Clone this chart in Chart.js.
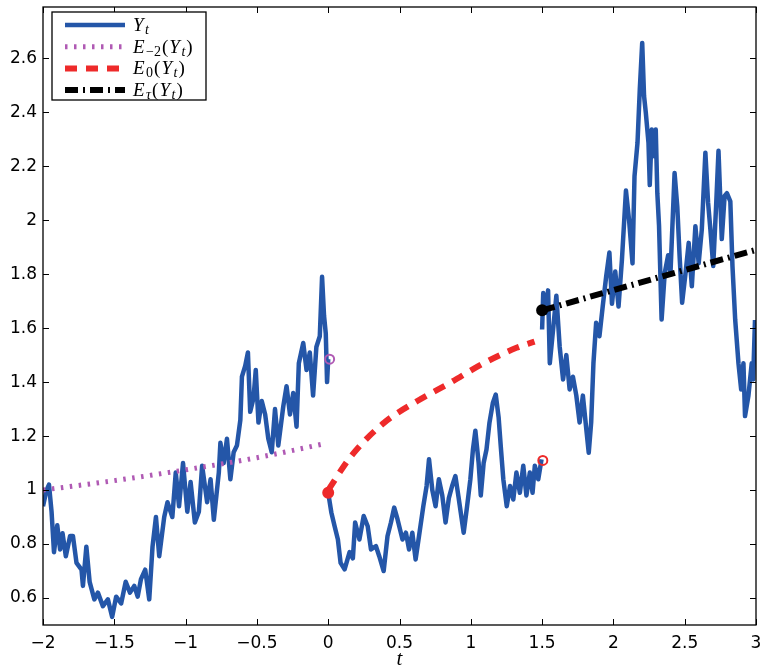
<!DOCTYPE html>
<html>
<head>
<meta charset="utf-8">
<script src="https://cdn.jsdelivr.net/npm/chart.js@4.4.0/dist/chart.umd.min.js"></script>
<style>
    html, body { margin: 0; padding: 0; background: #fff; }
    #wrap { width: 763px; height: 672px; position: relative; }
</style>
</head>
<body>
<div id="wrap"><canvas id="pathChart"></canvas></div>
<script>
// Y_t path, in three pieces (gaps at t=0 and t=1.5)
var tPast = [-2.000, -1.975, -1.958, -1.940, -1.923, -1.900, -1.880, -1.863, -1.840, -1.810,
    -1.790, -1.765, -1.730, -1.720, -1.696, -1.673, -1.640, -1.615, -1.580, -1.545,
    -1.515, -1.487, -1.452, -1.420, -1.390, -1.360, -1.336, -1.313, -1.283, -1.255,
    -1.232, -1.208, -1.185, -1.150, -1.127, -1.093, -1.069, -1.046, -1.018, -0.988,
    -0.965, -0.935, -0.907, -0.884, -0.849, -0.825, -0.802, -0.767, -0.756, -0.733,
    -0.710, -0.686, -0.663, -0.640, -0.616, -0.605, -0.582, -0.563, -0.547, -0.524,
    -0.508, -0.489, -0.466, -0.442, -0.420, -0.396, -0.373, -0.350, -0.315, -0.292,
    -0.268, -0.245, -0.222, -0.206, -0.175, -0.152, -0.129, -0.106, -0.083, -0.059,
    -0.043, -0.029, -0.017, -0.008, 0.000];
var yPast = [0.94, 1.00, 1.02, 0.92, 0.77, 0.87, 0.78, 0.84, 0.755, 0.83,
    0.83, 0.73, 0.705, 0.645, 0.79, 0.66, 0.595, 0.62, 0.57, 0.595,
    0.53, 0.605, 0.58, 0.66, 0.62, 0.645, 0.605, 0.67, 0.705, 0.595,
    0.79, 0.90, 0.755, 0.90, 0.955, 0.90, 1.065, 0.94, 1.10, 0.92,
    1.03, 0.88, 0.92, 1.09, 0.955, 1.04, 0.89, 1.065, 1.175, 1.10,
    1.19, 1.04, 1.14, 1.165, 1.26, 1.42, 1.46, 1.51, 1.29, 1.34,
    1.445, 1.25, 1.33, 1.28, 1.19, 1.14, 1.30, 1.165, 1.31, 1.385,
    1.28, 1.36, 1.235, 1.47, 1.545, 1.445, 1.51, 1.35, 1.53, 1.57,
    1.79, 1.645, 1.58, 1.40, 1.485];

var tMid = [0.000, 0.022, 0.045, 0.068, 0.087, 0.115, 0.150, 0.173, 0.189, 0.219,
    0.249, 0.277, 0.300, 0.335, 0.358, 0.389, 0.416, 0.440, 0.463, 0.486,
    0.521, 0.545, 0.567, 0.590, 0.613, 0.637, 0.667, 0.690, 0.707, 0.730,
    0.753, 0.776, 0.800, 0.823, 0.846, 0.869, 0.892, 0.915, 0.950, 0.974,
    0.997, 1.015, 1.032, 1.055, 1.070, 1.090, 1.110, 1.131, 1.155, 1.175,
    1.195, 1.210, 1.228, 1.252, 1.275, 1.298, 1.320, 1.344, 1.368, 1.390,
    1.414, 1.433, 1.449, 1.473, 1.496];
var yMid = [0.99, 0.917, 0.866, 0.817, 0.73, 0.706, 0.77, 0.747, 0.88, 0.817,
    0.904, 0.866, 0.78, 0.792, 0.755, 0.70, 0.83, 0.88, 0.935, 0.892,
    0.817, 0.842, 0.78, 0.842, 0.743, 0.83, 0.94, 1.015, 1.114, 1.00,
    0.94, 1.04, 0.98, 0.88, 0.97, 1.015, 1.052, 0.97, 0.842, 0.94,
    1.04, 1.15, 1.22, 1.10, 0.98, 1.10, 1.15, 1.25, 1.324, 1.354,
    1.27, 1.163, 1.04, 0.94, 1.015, 0.965, 1.065, 0.99, 1.09, 0.98,
    1.065, 0.99, 1.09, 1.04, 1.114];

var tLate = [1.500, 1.508, 1.525, 1.542, 1.554, 1.577, 1.600, 1.623, 1.647, 1.670,
    1.693, 1.716, 1.740, 1.763, 1.786, 1.810, 1.827, 1.844, 1.860, 1.879,
    1.902, 1.925, 1.949, 1.972, 1.990, 2.013, 2.036, 2.060, 2.088, 2.110,
    2.134, 2.148, 2.169, 2.185, 2.202, 2.215, 2.227, 2.246, 2.255, 2.269,
    2.286, 2.297, 2.308, 2.320, 2.338, 2.360, 2.384, 2.400, 2.429, 2.448,
    2.464, 2.482, 2.505, 2.528, 2.550, 2.575, 2.598, 2.620, 2.645, 2.664,
    2.680, 2.700, 2.720, 2.737, 2.760, 2.780, 2.796, 2.820, 2.835, 2.854,
    2.877, 2.896, 2.912, 2.923, 2.947, 2.970, 2.980, 2.993];
var yLate = [1.595, 1.73, 1.657, 1.74, 1.47, 1.595, 1.72, 1.533, 1.41, 1.50,
    1.373, 1.42, 1.35, 1.25, 1.35, 1.225, 1.138, 1.25, 1.47, 1.62,
    1.57, 1.68, 1.79, 1.88, 1.69, 1.81, 1.68, 1.855, 2.11, 2.00,
    1.84, 2.163, 2.287, 2.484, 2.657, 2.46, 2.40, 2.287, 2.13, 2.336,
    2.237, 2.336, 2.10, 1.98, 1.632, 1.805, 1.87, 1.80, 2.175, 2.05,
    1.87, 1.694, 1.80, 1.916, 1.755, 1.978, 1.84, 1.966, 2.25, 2.065,
    1.966, 1.83, 2.05, 2.257, 1.93, 2.09, 2.10, 2.07, 1.83, 1.632,
    1.47, 1.373, 1.47, 1.274, 1.35, 1.47, 1.41, 1.63];

// conditional expectations
var tEm2 = [-2, -1.5, -1, -0.5, -0.04];
var yEm2 = [1.0, 1.035, 1.075, 1.12, 1.17];
var tE0 = [0, 0.161, 0.393, 0.625, 0.857, 1.09, 1.32, 1.447];
var yE0 = [1.0, 1.126, 1.25, 1.33, 1.398, 1.47, 1.527, 1.55];
var tEtau = [1.5, 3];
var yEtau = [1.666, 1.89];

// circle markers
var openPurple = {t: [0.01], y: [1.485]};
var openRed = {t: [1.505], y: [1.11]};
var dotRed = {t: [0], y: [0.99]};
var dotBlack = {t: [1.5], y: [1.666]};

var xTicks = [-2, -1.5, -1, -0.5, 0, 0.5, 1, 1.5, 2, 2.5, 3];
var yTicks = [0.6, 0.8, 1, 1.2, 1.4, 1.6, 1.8, 2, 2.2, 2.4, 2.6];

// legend text pieces: [text, style]  i = italic, s = subscript, is = italic subscript
var legendLabels = [
    [['Y', 'i'], ['t', 'is']],
    [['E', 'i'], ['\u22122', 's'], ['(', ''], ['Y', 'i'], ['t', 'is'], [')', '']],
    [['E', 'i'], ['0', 's'], ['(', ''], ['Y', 'i'], ['t', 'is'], [')', '']],
    [['E', 'i'], ['\u03c4', 'is'], ['(', ''], ['Y', 'i'], ['t', 'is'], [')', '']]
];

function pts(ts, ys) {
    var out = [];
    for (var j = 0; j < ts.length; j++) out.push({x: ts[j], y: ys[j]});
    return out;
}

var BLUE = '#2456a8';
var PURPLE = '#b05ab4';
var RED = '#ee2a2a';

var styleBlue = {borderColor: BLUE, borderWidth: 4.5, borderDash: []};
var stylePurple = {borderColor: PURPLE, borderWidth: 5, borderDash: [2.5, 6.5]};
var styleRed = {borderColor: RED, borderWidth: 6, borderDash: [12, 9]};
var styleBlack = {borderColor: '#000', borderWidth: 6, borderDash: [13, 5, 2, 5]};

function lineSet(data, st, order, smooth) {
    return {
        data: data, borderColor: st.borderColor, borderWidth: st.borderWidth,
        borderDash: st.borderDash, pointRadius: 0, fill: false,
        tension: smooth ? 0.4 : 0, cubicInterpolationMode: smooth ? 'monotone' : 'default',
        borderJoinStyle: 'round', order: order
    };
}

function markerSet(m, color, filled, r) {
    return {
        data: pts(m.t, m.y), showLine: false, pointRadius: r, pointBorderWidth: 2,
        pointBorderColor: color, pointBackgroundColor: filled ? color : 'rgba(0,0,0,0)',
        order: 0
    };
}

var framePlugin = {
    id: 'frame',
    afterDraw: function (chart) {
        var ctx = chart.ctx, a = chart.chartArea;
        var xs = chart.scales.x, ys = chart.scales.y;
        ctx.save();
        ctx.strokeStyle = '#000';
        ctx.lineWidth = 1.3;
        ctx.strokeRect(a.left, a.top, a.right - a.left, a.bottom - a.top);
        ctx.lineWidth = 1;
        ctx.beginPath();
        xTicks.forEach(function (v) {
            var p = Math.round(xs.getPixelForValue(v)) + 0.5;
            ctx.moveTo(p, a.bottom); ctx.lineTo(p, a.bottom - 6);
            ctx.moveTo(p, a.top); ctx.lineTo(p, a.top + 6);
        });
        yTicks.forEach(function (v) {
            var p = Math.round(ys.getPixelForValue(v)) + 0.5;
            ctx.moveTo(a.left, p); ctx.lineTo(a.left + 6, p);
            ctx.moveTo(a.right, p); ctx.lineTo(a.right - 6, p);
        });
        ctx.stroke();

        // legend box
        var bx = 52, by = 12, bw = 154, bh = 88;
        ctx.fillStyle = '#fff';
        ctx.fillRect(bx, by, bw, bh);
        ctx.lineWidth = 1.3;
        ctx.strokeRect(bx, by, bw, bh);
        var styles = [styleBlue, stylePurple, styleRed, styleBlack];
        for (var k = 0; k < legendLabels.length; k++) {
            var ry = 25 + k * 21.7;
            var st = styles[k];
            ctx.strokeStyle = st.borderColor;
            ctx.lineWidth = st.borderWidth;
            ctx.setLineDash(st.borderDash);
            ctx.beginPath();
            ctx.moveTo(65, ry); ctx.lineTo(125, ry);
            ctx.stroke();
            ctx.setLineDash([]);
            var x = 133;
            ctx.fillStyle = '#000';
            ctx.textBaseline = 'alphabetic';
            legendLabels[k].forEach(function (piece, n) {
                var sub = piece[1].indexOf('s') >= 0;
                var ital = piece[1].indexOf('i') >= 0;
                ctx.font = (ital ? 'italic ' : '') + (sub ? '14px' : '19px') + ' "Liberation Serif"';
                ctx.fillText(piece[0], x, ry + 6 + (sub ? 3 : 0));
                x += ctx.measureText(piece[0]).width + (ital && !sub ? 1.5 : 1);
            });
        }
        ctx.restore();
    }
};

Chart.defaults.font.family = '"DejaVu Sans"';

new Chart(document.getElementById('pathChart').getContext('2d'), {
    type: 'line',
    data: {
        datasets: [
            markerSet(openPurple, PURPLE, false, 4.5),
            markerSet(openRed, RED, false, 4.5),
            markerSet(dotRed, RED, true, 5),
            markerSet(dotBlack, '#000', true, 5),
            lineSet(pts(tEtau, yEtau), styleBlack, 1),
            lineSet(pts(tE0, yE0), styleRed, 1, true),
            lineSet(pts(tEm2, yEm2), stylePurple, 1, true),
            lineSet(pts(tPast, yPast), styleBlue, 2),
            lineSet(pts(tMid, yMid), styleBlue, 2),
            lineSet(pts(tLate, yLate), styleBlue, 2)
        ]
    },
    options: {
        responsive: true,
        maintainAspectRatio: false,
        animation: false,
        layout: {padding: {top: 4, right: 2, left: 0, bottom: 0}},
        plugins: {legend: {display: false}, tooltip: {enabled: false}},
        scales: {
            x: {
                type: 'linear', min: -2, max: 3,
                afterBuildTicks: function (s) { s.ticks = xTicks.map(function (v) { return {value: v}; }); },
                afterFit: function (s) { s.height = 47; s.paddingLeft = 0; s.paddingRight = 0; },
                grid: {display: false, drawTicks: false},
                border: {display: false},
                ticks: {
                    autoSkip: false, maxRotation: 0, padding: 8, color: '#000',
                    font: {size: 17},
                    callback: function (v) { return (v < 0 ? '\u2212' : '') + Math.abs(v); }
                },
                title: {
                    display: true, text: 't', color: '#000', padding: {top: 0, bottom: 0},
                    font: {family: '"Liberation Serif"', style: 'italic', size: 21}
                }
            },
            y: {
                type: 'linear', min: 0.5, max: 2.79,
                afterBuildTicks: function (s) { s.ticks = yTicks.map(function (v) { return {value: v}; }); },
                afterFit: function (s) { s.width = 43; s.paddingTop = 0; s.paddingBottom = 0; },
                grid: {display: false, drawTicks: false},
                border: {display: false},
                ticks: {
                    padding: 6, color: '#000', font: {size: 17},
                    callback: function (v) { return String(v); }
                }
            }
        }
    },
    plugins: [framePlugin]
});
</script>
</body>
</html>
